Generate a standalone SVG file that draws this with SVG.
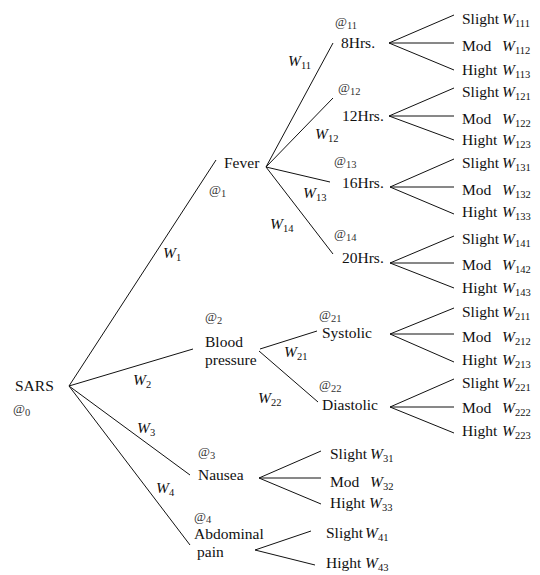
<svg xmlns="http://www.w3.org/2000/svg" width="540" height="575" viewBox="0 0 540 575">
  <style>
    text { font-family: "Liberation Serif", "Times New Roman", serif; font-size: 15.5px; fill: #111; }
    .w { font-style: italic; }
    .s { font-size: 10.5px; font-style: normal; }
    .a { font-size: 13px; fill: #333; }
    line { stroke: #111; stroke-width: 1; fill: none; }
  </style>
  <rect width="540" height="575" fill="#fff"/>

  <!-- connectors and their weight labels -->
  <g id="connectors">
    <line x1="69" y1="386" x2="216" y2="160"/>
    <line x1="69" y1="386" x2="193" y2="349"/>
    <line x1="69" y1="386" x2="190" y2="475"/>
    <line x1="69" y1="386" x2="190" y2="545"/>

    <line x1="266" y1="167" x2="333" y2="43"/>
    <line x1="266" y1="167" x2="333" y2="98"/>
    <line x1="266" y1="167" x2="330" y2="182"/>
    <line x1="266" y1="167" x2="333" y2="254"/>

    <line x1="389" y1="43" x2="454" y2="15"/>
    <line x1="389" y1="43" x2="454" y2="43"/>
    <line x1="389" y1="43" x2="454" y2="70"/>

    <line x1="389" y1="116" x2="454" y2="88"/>
    <line x1="389" y1="116" x2="454" y2="116"/>
    <line x1="389" y1="116" x2="454" y2="140"/>

    <line x1="390" y1="187" x2="454" y2="159"/>
    <line x1="390" y1="187" x2="454" y2="187"/>
    <line x1="390" y1="187" x2="454" y2="214"/>

    <line x1="390" y1="263" x2="454" y2="236"/>
    <line x1="390" y1="263" x2="454" y2="263"/>
    <line x1="390" y1="263" x2="454" y2="288"/>

    <line x1="260" y1="349" x2="317" y2="331"/>
    <line x1="259" y1="351" x2="318" y2="402"/>

    <line x1="390" y1="334" x2="454" y2="308"/>
    <line x1="390" y1="334" x2="454" y2="334"/>
    <line x1="390" y1="334" x2="454" y2="362"/>

    <line x1="390" y1="407" x2="454" y2="379"/>
    <line x1="390" y1="407" x2="454" y2="407"/>
    <line x1="390" y1="407" x2="454" y2="433"/>

    <line x1="259" y1="478" x2="321" y2="451"/>
    <line x1="259" y1="478" x2="321" y2="478"/>
    <line x1="259" y1="478" x2="321" y2="504"/>

    <line x1="255" y1="550" x2="311" y2="531"/>
    <line x1="255" y1="550" x2="315" y2="565"/>

    <text x="163" y="258"><tspan class="w">W</tspan><tspan class="s" dy="3">1</tspan></text>
    <text x="133" y="385"><tspan class="w">W</tspan><tspan class="s" dy="3">2</tspan></text>
    <text x="137" y="433"><tspan class="w">W</tspan><tspan class="s" dy="3">3</tspan></text>
    <text x="156" y="493"><tspan class="w">W</tspan><tspan class="s" dy="3">4</tspan></text>
    <text x="288" y="66"><tspan class="w">W</tspan><tspan class="s" dy="3">11</tspan></text>
    <text x="315" y="139"><tspan class="w">W</tspan><tspan class="s" dy="3">12</tspan></text>
    <text x="303" y="198"><tspan class="w">W</tspan><tspan class="s" dy="3">13</tspan></text>
    <text x="270" y="229"><tspan class="w">W</tspan><tspan class="s" dy="3">14</tspan></text>
    <text x="284" y="357"><tspan class="w">W</tspan><tspan class="s" dy="3">21</tspan></text>
    <text x="258" y="403"><tspan class="w">W</tspan><tspan class="s" dy="3">22</tspan></text>
  </g>

  <g id="sars">
    <text x="15" y="391">SARS</text>
    <text class="a" x="13" y="413">@<tspan class="s" dy="3">0</tspan></text>
  </g>

  <g id="fever">
    <text x="224" y="168">Fever</text>
    <text class="a" x="209" y="194">@<tspan class="s" dy="3">1</tspan></text>
  </g>

  <g id="hrs8">
    <text class="a" x="335" y="26">@<tspan class="s" dy="3">11</tspan></text>
    <text x="341" y="48">8Hrs.</text>
  </g>
  <g id="hrs12">
    <text class="a" x="338" y="92">@<tspan class="s" dy="3">12</tspan></text>
    <text x="342" y="121">12Hrs.</text>
  </g>
  <g id="hrs16">
    <text class="a" x="334" y="165">@<tspan class="s" dy="3">13</tspan></text>
    <text x="342" y="188">16Hrs.</text>
  </g>
  <g id="hrs20">
    <text class="a" x="334" y="238">@<tspan class="s" dy="3">14</tspan></text>
    <text x="342" y="263">20Hrs.</text>
  </g>

  <g id="blood-pressure">
    <text class="a" x="205" y="321">@<tspan class="s" dy="3">2</tspan></text>
    <text x="205" y="347">Blood</text>
    <text x="205" y="365">pressure</text>
  </g>
  <g id="systolic">
    <text class="a" x="319" y="319">@<tspan class="s" dy="3">21</tspan></text>
    <text x="322" y="338">Systolic</text>
  </g>
  <g id="diastolic">
    <text class="a" x="319" y="389">@<tspan class="s" dy="3">22</tspan></text>
    <text x="322" y="410">Diastolic</text>
  </g>

  <g id="nausea">
    <text class="a" x="198" y="456">@<tspan class="s" dy="3">3</tspan></text>
    <text x="198" y="480">Nausea</text>
  </g>
  <g id="abdominal-pain">
    <text class="a" x="194" y="521">@<tspan class="s" dy="2">4</tspan></text>
    <text x="194" y="539">Abdominal</text>
    <text x="197" y="557">pain</text>
  </g>

  <!-- severity leaves -->
  <g id="leaf-111"><text x="462" y="24">Slight</text><text x="502" y="24"><tspan class="w">W</tspan><tspan class="s" dy="3">111</tspan></text></g>
  <g id="leaf-112"><text x="462" y="51">Mod</text><text x="502" y="51"><tspan class="w">W</tspan><tspan class="s" dy="3">112</tspan></text></g>
  <g id="leaf-113"><text x="462" y="75">Hight</text><text x="502" y="75"><tspan class="w">W</tspan><tspan class="s" dy="3">113</tspan></text></g>

  <g id="leaf-121"><text x="462" y="97">Slight</text><text x="502" y="97"><tspan class="w">W</tspan><tspan class="s" dy="3">121</tspan></text></g>
  <g id="leaf-122"><text x="462" y="124">Mod</text><text x="502" y="124"><tspan class="w">W</tspan><tspan class="s" dy="3">122</tspan></text></g>
  <g id="leaf-123"><text x="462" y="145">Hight</text><text x="502" y="145"><tspan class="w">W</tspan><tspan class="s" dy="3">123</tspan></text></g>

  <g id="leaf-131"><text x="462" y="168">Slight</text><text x="502" y="168"><tspan class="w">W</tspan><tspan class="s" dy="3">131</tspan></text></g>
  <g id="leaf-132"><text x="462" y="195">Mod</text><text x="502" y="195"><tspan class="w">W</tspan><tspan class="s" dy="3">132</tspan></text></g>
  <g id="leaf-133"><text x="462" y="217">Hight</text><text x="502" y="217"><tspan class="w">W</tspan><tspan class="s" dy="3">133</tspan></text></g>

  <g id="leaf-141"><text x="462" y="244">Slight</text><text x="502" y="244"><tspan class="w">W</tspan><tspan class="s" dy="3">141</tspan></text></g>
  <g id="leaf-142"><text x="462" y="270">Mod</text><text x="502" y="270"><tspan class="w">W</tspan><tspan class="s" dy="3">142</tspan></text></g>
  <g id="leaf-143"><text x="462" y="293">Hight</text><text x="502" y="293"><tspan class="w">W</tspan><tspan class="s" dy="3">143</tspan></text></g>

  <g id="leaf-211"><text x="462" y="317">Slight</text><text x="502" y="317"><tspan class="w">W</tspan><tspan class="s" dy="3">211</tspan></text></g>
  <g id="leaf-212"><text x="462" y="342">Mod</text><text x="502" y="342"><tspan class="w">W</tspan><tspan class="s" dy="3">212</tspan></text></g>
  <g id="leaf-213"><text x="462" y="365">Hight</text><text x="502" y="365"><tspan class="w">W</tspan><tspan class="s" dy="3">213</tspan></text></g>

  <g id="leaf-221"><text x="462" y="388">Slight</text><text x="502" y="388"><tspan class="w">W</tspan><tspan class="s" dy="3">221</tspan></text></g>
  <g id="leaf-222"><text x="462" y="413">Mod</text><text x="502" y="413"><tspan class="w">W</tspan><tspan class="s" dy="3">222</tspan></text></g>
  <g id="leaf-223"><text x="462" y="436">Hight</text><text x="502" y="436"><tspan class="w">W</tspan><tspan class="s" dy="3">223</tspan></text></g>

  <g id="leaf-31"><text x="330" y="459">Slight</text><text x="370" y="459"><tspan class="w">W</tspan><tspan class="s" dy="3">31</tspan></text></g>
  <g id="leaf-32"><text x="330" y="487">Mod</text><text x="370" y="487"><tspan class="w">W</tspan><tspan class="s" dy="3">32</tspan></text></g>
  <g id="leaf-33"><text x="330" y="508">Hight</text><text x="369" y="508"><tspan class="w">W</tspan><tspan class="s" dy="3">33</tspan></text></g>

  <g id="leaf-41"><text x="326" y="538">Slight</text><text x="365" y="538"><tspan class="w">W</tspan><tspan class="s" dy="3">41</tspan></text></g>
  <g id="leaf-43"><text x="326" y="568">Hight</text><text x="365" y="568"><tspan class="w">W</tspan><tspan class="s" dy="3">43</tspan></text></g>
</svg>
